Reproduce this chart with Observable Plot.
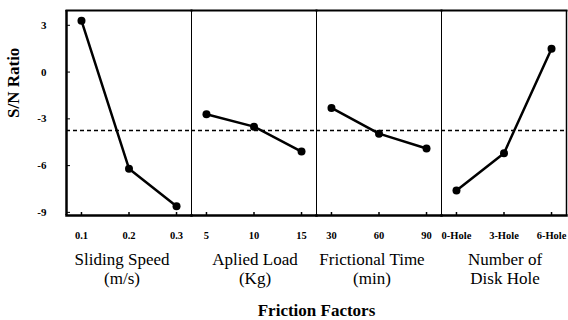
<!DOCTYPE html>
<html>
<head>
<meta charset="utf-8">
<script src="https://cdn.jsdelivr.net/npm/d3@7"></script>
<script src="https://cdn.jsdelivr.net/npm/@observablehq/plot@0.6"></script>
<style>
  html, body { margin: 0; padding: 0; background: #fff; }
  svg { display: block; }
</style>
</head>
<body>
<div id="chart"></div>
<script>
const factors = ["Sliding Speed", "Aplied Load", "Frictional Time", "Number of Disk Hole"];
const factorLabels = ["Sliding Speed\n(m/s)", "Aplied Load\n(Kg)", "Frictional Time\n(min)", "Number of\nDisk Hole"];
const levels = [["0.1", "0.2", "0.3"], ["5", "10", "15"], ["30", "60", "90"], ["0-Hole", "3-Hole", "6-Hole"]];
const snRatio = [[3.3, -6.2, -8.6], [-2.7, -3.5, -5.1], [-2.3, -3.95, -4.9], [-7.6, -5.2, 1.5]];
const meanSN = -3.75;
const yTicks = [3, 0, -3, -6, -9];
const yDomain = [-9.2, 3.95];
const xDomain = [-0.315, 2.315];

const data = [];
factors.forEach((f, i) => levels[i].forEach((lv, j) => data.push({factor: f, idx: j, level: lv, sn: snRatio[i][j]})));
const facetRows = factors.map((f, i) => ({factor: f, label: factorLabels[i], shifted: i === 0 || i === 2}));
const yTickRows = yTicks.map(v => ({factor: factors[0], v}));

const serif = "Liberation Serif";

const chart = Plot.plot({
  width: 568,
  height: 320,
  marginLeft: 65,
  marginRight: 2,
  marginTop: 10,
  marginBottom: 105,
  style: {color: "#000", background: "#fff", fontFamily: serif},
  fx: {domain: factors, padding: 0, axis: null},
  x: {domain: xDomain, axis: null},
  y: {domain: yDomain, axis: null},
  marks: [
    Plot.frame({stroke: "#000", strokeWidth: 1}),
    Plot.frame({anchor: "top", stroke: "#000", strokeWidth: 2}),
    Plot.frame({anchor: "bottom", stroke: "#000", strokeWidth: 2.5}),
    Plot.ruleX([{factor: factors[0], x: xDomain[0]}], {fx: "factor", x: "x", stroke: "#000", strokeWidth: 2.5}),
    Plot.ruleX([{factor: factors[3], x: xDomain[1]}], {fx: "factor", x: "x", stroke: "#000", strokeWidth: 1.5}),
    Plot.axisY({ticks: yTicks, tickSize: -4, tickFormat: () => "", label: null, facetAnchor: "left"}),
    Plot.text(yTickRows, {fx: "factor", y: "v", text: d => String(d.v), frameAnchor: "left", dx: -20, textAnchor: "end", fontWeight: "bold", fontSize: 11, fontFamily: serif}),
    Plot.axisX({ticks: [0, 1, 2], tickSize: -3, tickFormat: () => "", label: null, strokeWidth: 1.5}),
    Plot.ruleY([meanSN], {stroke: "#000", strokeWidth: 1.5, strokeDasharray: "4,3"}),
    Plot.line(data, {fx: "factor", x: "idx", y: "sn", stroke: "#000", strokeWidth: 2.5}),
    Plot.dot(data, {fx: "factor", x: "idx", y: "sn", r: 4, fill: "#000"}),
    Plot.text(data, {fx: "factor", x: "idx", text: "level", frameAnchor: "bottom", dy: 23, fontWeight: "bold", fontSize: 10.5, fontFamily: serif}),
    Plot.text(facetRows.filter(d => d.shifted), {fx: "factor", text: "label", frameAnchor: "bottom", dx: -7, dy: 68, fontSize: 17, lineHeight: 1.06, fontFamily: serif}),
    Plot.text(facetRows.filter(d => !d.shifted), {fx: "factor", text: "label", frameAnchor: "bottom", dx: 1, dy: 68, fontSize: 17, lineHeight: 1.06, fontFamily: serif}),
    Plot.text([{factor: factors[1]}], {fx: "factor", text: () => "Friction Factors", frameAnchor: "bottom-right", dy: 100, textAnchor: "middle", fontWeight: "bold", fontSize: 17, letterSpacing: 0.3, fontFamily: serif}),
    Plot.text([{factor: factors[0]}], {fx: "factor", text: () => "S/N Ratio", frameAnchor: "left", dx: -53, dy: 5, rotate: -90, fontWeight: "bold", fontSize: 17, fontFamily: serif})
  ]
});
document.getElementById("chart").appendChild(chart);
</script>
</body>
</html>
